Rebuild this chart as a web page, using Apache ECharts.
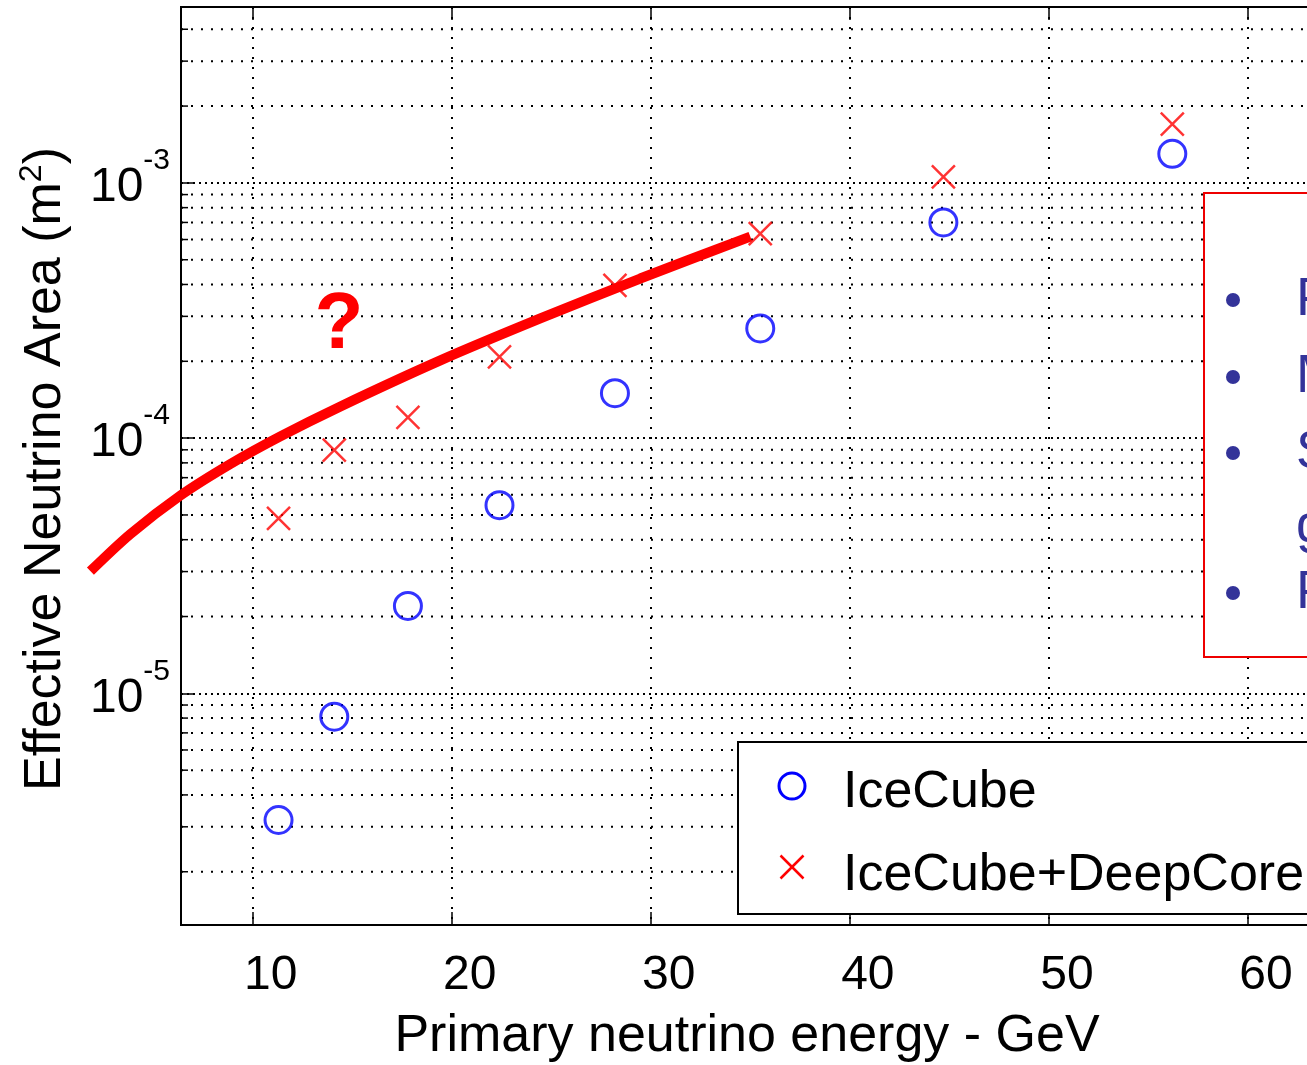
<!DOCTYPE html>
<html><head><meta charset="utf-8">
<script src="https://cdn.jsdelivr.net/npm/echarts@6/dist/echarts.min.js"></script>
<style>html,body{margin:0;padding:0;background:#fff}#c{width:1307px;height:1065px}</style>
</head><body><div id="c"></div>
<script>
// ---- data ----
const energy = [11.3, 14.1, 17.8, 22.4, 28.2, 35.5, 44.7, 56.2];
const iceCube = [3.19e-6, 8.1e-6, 2.2e-5, 5.46e-5, 1.5e-4, 2.69e-4, 7.0e-4, 1.30e-3];
const iceCubeDeepCore = [4.85e-5, 8.97e-5, 1.205e-4, 2.08e-4, 3.97e-4, 6.33e-4, 1.056e-3, 1.70e-3];
const curveEnergy = [1.85, 3.86, 6.37, 8.88, 11.39, 14.41, 19.43, 24.45, 29.47, 35.0];
const curveArea = [3.01e-5, 4.21e-5, 5.96e-5, 7.92e-5, 1.016e-4, 1.331e-4, 2.016e-4, 2.943e-4, 4.22e-4, 6.16e-4];
const xTickValues = [10, 20, 30, 40, 50, 60, 70];
const yDecades = [-6, -5, -4, -3];
const minorMultipliers = [2, 3, 4, 5, 6, 7, 8, 9];
const seriesNames = ['IceCube', 'IceCube+DeepCore'];
const boxLetters = ['P', 'M', 'S', 'g', 'P'];
const boxBullets = [true, true, true, false, true];

const X_MIN = 6.4, X_MAX = 70, Y_MIN = 1.237e-6, Y_MAX = 4.889e-3;
const CURVE_X_MIN = 1.5;
const FF = '"Liberation Sans", Arial, Helvetica, sans-serif';

const GRID_LEFT = 181, GRID_RIGHT = -140, GRID_TOP = 7, GRID_BOTTOM = 140, W = 1307;
const pxPerUnit = (W - GRID_RIGHT - GRID_LEFT) / (X_MAX - X_MIN);
const GRID2_LEFT = GRID_LEFT - (X_MIN - CURVE_X_MIN) * pxPerUnit;

const minorValues = [];
yDecades.forEach(d => minorMultipliers.forEach(m => {
  const v = m * Math.pow(10, d);
  if (v > Y_MIN && v < Y_MAX) minorValues.push(v);
}));

const chart = echarts.init(document.getElementById('c'), null, {renderer: 'canvas'});

const dotted = {color: '#000', width: 2, type: [2, 8]};
const dottedMajor = {color: '#000', width: 2, type: [2, 4]};

const option = {
  animation: false,
  backgroundColor: '#fff',
  grid: [
    {left: GRID_LEFT, top: GRID_TOP, bottom: GRID_BOTTOM, right: GRID_RIGHT, show: true, borderColor: '#000', borderWidth: 2, outerBoundsMode: 'none', containLabel: false},
    {left: GRID2_LEFT, top: GRID_TOP, bottom: GRID_BOTTOM, right: GRID_RIGHT, show: false, outerBoundsMode: 'none', containLabel: false}
  ],
  xAxis: [{
    type: 'value', gridIndex: 0, min: X_MIN, max: X_MAX, minInterval: 10, maxInterval: 10,
    axisLine: {show: true, onZero: false, lineStyle: {color: '#000', width: 2}},
    axisTick: {show: true, inside: true, length: 13, lineStyle: {color: '#000', width: 1.5}},
    axisLabel: {show: true, showMinLabel: false, fontFamily: FF, fontSize: 48, lineHeight: 48, color: '#000', margin: 27,
      padding: [0, 0, 0, 36],
      formatter: v => xTickValues.indexOf(v) >= 0 ? String(v) : ''},
    splitLine: {show: true, lineStyle: dotted}
  }, {
    type: 'value', gridIndex: 0, position: 'top', min: X_MIN, max: X_MAX, minInterval: 10, maxInterval: 10,
    axisLine: {show: true, onZero: false, lineStyle: {color: '#000', width: 2}},
    axisTick: {show: true, inside: true, length: 13, lineStyle: {color: '#000', width: 1.5}},
    axisLabel: {show: false}, splitLine: {show: false}
  }, {
    type: 'value', gridIndex: 1, min: CURVE_X_MIN, max: X_MAX, show: false
  }],
  yAxis: [{
    type: 'log', gridIndex: 0, logBase: 10, min: Y_MIN, max: Y_MAX,
    axisLine: {show: true, onZero: false, lineStyle: {color: '#000', width: 2}},
    axisTick: {show: true, inside: true, length: 14, lineStyle: {color: '#000', width: 1.5}},
    axisLabel: {
      show: true, showMinLabel: false, showMaxLabel: false, margin: 11, color: '#000',
      padding: [10, 0, 0, 0],
      formatter: v => {
        const e = Math.log10(v);
        if (Math.abs(e - Math.round(e)) < 1e-6) return '{b|10}{s|' + Math.round(e) + '}';
        return '';
      },
      rich: {
        b: {fontFamily: FF, fontSize: 48, lineHeight: 48, color: '#000', verticalAlign: 'bottom'},
        s: {fontFamily: FF, fontSize: 30, lineHeight: 30, color: '#000', verticalAlign: 'bottom', padding: [0, 0, 36, 0]}
      }
    },
    splitLine: {show: true, lineStyle: dottedMajor}
  }, {
    type: 'log', gridIndex: 1, logBase: 10, min: Y_MIN, max: Y_MAX, show: false
  }],
  series: [
    {
      name: 'minor grid', type: 'custom', xAxisIndex: 0, yAxisIndex: 0, silent: true, z: 1,
      data: minorValues.map(v => [X_MIN, v]),
      renderItem: (params, api) => {
        const v = api.value(1);
        const p0 = api.coord([X_MIN, v]);
        const p1 = api.coord([X_MAX, v]);
        return {type: 'group', children: [
          {type: 'line', shape: {x1: p0[0], y1: p0[1], x2: p1[0], y2: p1[1]}, style: {stroke: '#000', lineWidth: 2, lineDash: [2, 8]}},
          {type: 'line', shape: {x1: p0[0], y1: p0[1], x2: p0[0] + 7, y2: p0[1]}, style: {stroke: '#000', lineWidth: 1.5}}
        ]};
      }
    },
    {
      name: seriesNames[0], type: 'scatter', xAxisIndex: 0, yAxisIndex: 0, symbol: 'circle', symbolSize: 27,
      data: energy.map((x, i) => [x, iceCube[i]]),
      itemStyle: {color: 'rgba(0,0,0,0)', borderColor: '#0000ff', borderWidth: 3},
      z: 4
    },
    {
      name: seriesNames[1], type: 'scatter', xAxisIndex: 0, yAxisIndex: 0, symbol: 'path://M0,0L10,10M10,0L0,10', symbolSize: 23,
      data: energy.map((x, i) => [x, iceCubeDeepCore[i]]),
      itemStyle: {color: '#ff0000', borderColor: '#ff0000', borderWidth: 2.5},
      z: 4
    },
    {
      name: 'annotation', type: 'line', xAxisIndex: 2, yAxisIndex: 1, smooth: 0.3, symbol: 'none', showSymbol: false, clip: false, silent: true,
      data: curveEnergy.map((x, i) => [x, curveArea[i]]),
      lineStyle: {color: '#ff0000', width: 10, cap: 'butt'},
      z: 6
    }
  ],
  graphic: [
    {type: 'text', x: 747, y: 1037, z: 10, style: {text: 'Primary neutrino energy - GeV', font: '52px ' + FF, fill: '#000', align: 'center', verticalAlign: 'middle', textAlign: 'center', textVerticalAlign: 'middle'}},
    {type: 'text', x: 44, y: 469, rotation: Math.PI / 2, z: 10, style: {
      text: '{a|Effective Neutrino Area (m}{s|2}{a|)}', x: 0, y: 0, align: 'center', verticalAlign: 'middle', textAlign: 'center', textVerticalAlign: 'middle',
      rich: {a: {fontFamily: FF, fontSize: 52, lineHeight: 56, fill: '#000', color: '#000', verticalAlign: 'bottom'},
             s: {fontFamily: FF, fontSize: 32, lineHeight: 32, fill: '#000', color: '#000', verticalAlign: 'bottom', padding: [0, 0, 24, 0]}}}},
    {type: 'text', x: 339, y: 326, z: 10, style: {text: '?', font: 'bold 80px ' + FF, fill: '#ff0000', align: 'center', verticalAlign: 'middle', textAlign: 'center', textVerticalAlign: 'middle'}},
    // legend box
    {type: 'rect', z: 20, shape: {x: 738, y: 742, width: 700, height: 172}, style: {fill: '#fff', stroke: '#000', lineWidth: 2}},
    {type: 'circle', z: 21, shape: {cx: 792, cy: 786, r: 13}, style: {fill: 'none', stroke: '#0000ff', lineWidth: 3}},
    {type: 'line', z: 21, shape: {x1: 780.5, y1: 855.5, x2: 803.5, y2: 878.5}, style: {stroke: '#ff0000', lineWidth: 2.5}},
    {type: 'line', z: 21, shape: {x1: 803.5, y1: 855.5, x2: 780.5, y2: 878.5}, style: {stroke: '#ff0000', lineWidth: 2.5}},
    {type: 'text', z: 21, x: 843, y: 793, style: {text: seriesNames[0], font: '52px ' + FF, fill: '#000', align: 'left', verticalAlign: 'middle', textAlign: 'left', textVerticalAlign: 'middle'}},
    {type: 'text', z: 21, x: 843, y: 876, style: {text: seriesNames[1], font: '52px ' + FF, fill: '#000', align: 'left', verticalAlign: 'middle', textAlign: 'left', textVerticalAlign: 'middle'}},
    // red text box (cropped)
    {type: 'rect', z: 20, shape: {x: 1204, y: 193, width: 200, height: 464}, style: {fill: '#fff', stroke: '#ee0000', lineWidth: 2}}
  ].concat(boxLetters.map((t, i) => ({type: 'text', z: 21, x: 1296, y: [300, 377, 453, 527, 593][i], style: {text: t, font: '54px ' + FF, fill: '#333399', align: 'left', verticalAlign: 'middle', textAlign: 'left', textVerticalAlign: 'middle'}})))
   .concat(boxBullets.map((b, i) => b ? ({type: 'circle', z: 21, shape: {cx: 1233, cy: [300, 377, 453, 527, 593][i], r: 7}, style: {fill: '#333399'}}) : null).filter(Boolean))
};
chart.setOption(option);
</script></body></html>
